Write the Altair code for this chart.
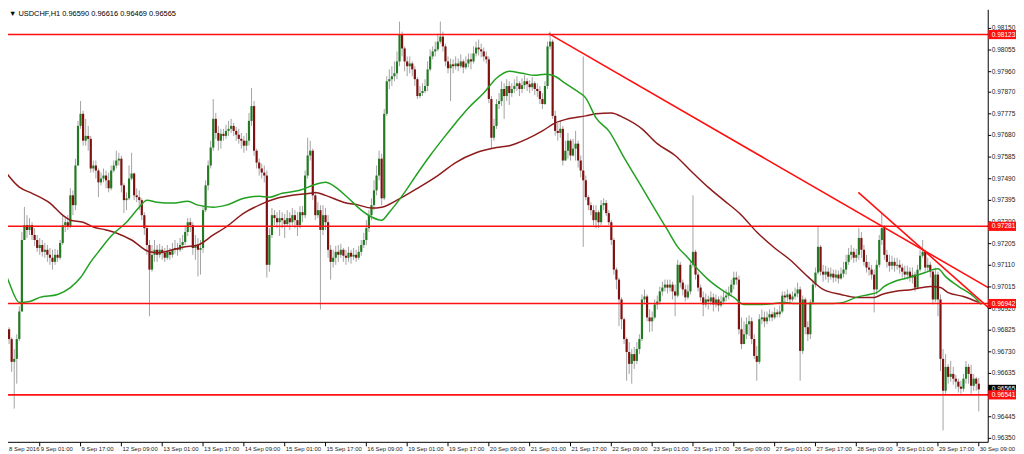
import altair as alt
import pandas as pd

# ---------------- data (prices x 1e5) ----------------
first_open = 96930
close_pts = [
96907,96881,96829,96786,96686,96699,96786,96907,97221,97286,
97265,97286,97243,97221,97186,97199,97169,97178,97156,97143,
97125,97156,97143,97208,97286,97299,97282,97417,97374,97548,
97722,97775,97657,97678,97665,97535,97548,97526,97474,97491,
97504,97483,97448,97526,97548,97570,97578,97461,97396,97404,
97491,97513,97417,97409,97396,97330,97273,97199,97091,97156,
97178,97156,97178,97165,97143,97169,97156,97178,97186,97178,
97199,97212,97256,97299,97286,97186,97199,97178,97186,97352,
97461,97548,97627,97753,97691,97657,97687,97678,97700,97709,
97722,97700,97683,97665,97657,97635,97657,97744,97809,97613,
97561,97535,97517,97504,97112,97243,97330,97317,97299,97317,
97308,97291,97317,97299,97330,97308,97286,97343,97330,97504,
97592,97613,97417,97330,97352,97265,97330,97299,97178,97125,
97143,97169,97156,97178,97152,97143,97165,97148,97156,97143,
97169,97199,97221,97273,97330,97374,97439,97504,97578,97404,
97775,97918,97927,97940,97953,98005,98123,98062,98005,97984,
97996,97970,97927,97853,97866,97875,97897,97970,98027,98049,
98058,98092,98114,98071,98005,97975,97992,97984,97996,97984,
98005,97979,97996,98014,98005,98040,98066,98058,98049,98027,
98014,97840,97670,97722,97818,97831,97884,97853,97897,97866,
97884,97897,97909,97884,97901,97918,97905,97892,97909,97884,
97875,97840,97818,97897,98071,98092,97766,97700,97691,97709,
97570,97613,97657,97592,97622,97644,97570,97526,97483,97409,
97374,97352,97308,97343,97299,97374,97383,97339,97299,97221,
97091,97047,96960,96873,96786,96729,96677,96720,96690,96742,
96786,96960,96973,96881,96864,96881,96938,96951,96995,97012,
97025,97012,97025,96995,96977,97112,97034,97004,96969,96995,
97112,97169,97069,97012,96969,96938,96960,96951,96969,96938,
96960,96934,96951,96969,96977,96990,97025,97056,97047,96829,
96764,96807,96851,96864,96786,96712,96686,96873,96881,96864,
96881,96895,96881,96903,96895,96907,96977,96969,96982,96960,
96973,96986,97004,96734,96960,96838,96807,96947,97025,97078,
97191,97082,97069,97082,97060,97073,97056,97069,97052,97073,
97091,97125,97156,97169,97143,97156,97230,97178,97125,97100,
97091,97069,97004,97112,97221,97273,97156,97125,97108,97125,
97108,97112,97100,97082,97069,97082,97056,97069,97012,97091,
97152,97169,97100,97112,97082,96960,97069,96960,96699,96559,
96664,96620,96633,96612,96599,96577,96568,96612,96664,96633,
96581,96612,96590,96565]
high_pts = [
96969,96938,96894,96838,96794,96742,96807,96930,97256,97366,
97330,97317,97299,97273,97243,97230,97221,97208,97199,97186,
97178,97182,97178,97221,97330,97322,97330,97448,97439,97578,
97744,97831,97788,97753,97722,97678,97570,97570,97535,97517,
97535,97526,97517,97548,97570,97613,97604,97591,97470,97430,
97548,97604,97517,97448,97439,97404,97343,97286,97221,97199,
97221,97199,97204,97195,97186,97199,97186,97208,97221,97208,
97230,97243,97286,97317,97317,97299,97243,97230,97221,97374,
97483,97570,97657,97840,97779,97722,97709,97709,97727,97744,
97753,97735,97718,97709,97691,97678,97691,97779,97888,97831,
97622,97578,97556,97548,97526,97273,97361,97352,97343,97352,
97343,97335,97352,97343,97361,97352,97343,97370,97370,97526,
97670,97657,97622,97430,97387,97374,97374,97361,97330,97199,
97178,97195,97199,97204,97186,97178,97191,97178,97186,97178,
97195,97221,97252,97308,97352,97404,97483,97548,97613,97600,
97796,97940,97970,97984,98005,98049,98180,98136,98071,98027,
98027,98005,97984,97936,97897,97909,97927,98005,98058,98071,
98092,98127,98180,98136,98083,98027,98018,98014,98027,98018,
98036,98014,98027,98040,98040,98071,98092,98101,98083,98066,
98049,98027,97853,97753,97840,97866,97918,97909,97927,97918,
97909,97927,97940,97918,97931,97944,97931,97922,97936,97918,
97909,97897,97866,97918,98092,98136,98101,97788,97735,97744,
97722,97657,97691,97665,97665,97700,97657,97592,98027,97504,
97417,97387,97374,97374,97352,97396,97404,97396,97352,97308,
97230,97100,97056,96969,96881,96794,96773,96742,96751,96773,
96807,96982,97004,96982,96916,96907,96960,96977,97017,97038,
97047,97047,97047,97038,97025,97134,97125,97047,97025,97025,
97134,97417,97178,97082,97025,96995,96986,96977,96995,96986,
96982,96973,96977,96995,97004,97017,97047,97082,97082,97065,
96881,96864,96881,96890,96881,96807,96755,96895,96916,96907,
96907,96916,96907,96925,96916,96934,96995,96995,97004,96990,
96995,97012,97034,97017,96977,96969,96864,96960,97047,97100,
97278,97199,97112,97108,97100,97100,97091,97091,97087,97100,
97125,97156,97186,97199,97186,97182,97273,97256,97199,97156,
97125,97112,97091,97134,97243,97339,97286,97178,97156,97152,
97143,97143,97134,97117,97108,97108,97100,97100,97082,97112,
97178,97221,97178,97143,97125,97091,97100,97082,96982,96742,
96720,96677,96690,96664,96629,96612,96603,96633,96690,96677,
96673,96633,96620,96616]
low_pts = [
96873,96864,96807,96764,96642,96481,96590,96777,96907,97221,
97230,97243,97221,97195,97169,97156,97148,97143,97125,97112,
97091,97112,97125,97134,97199,97256,97265,97273,97330,97352,
97548,97709,97635,97635,97613,97517,97517,97491,97409,97461,
97474,97448,97430,97439,97517,97535,97548,97430,97339,97352,
97396,97483,97396,97387,97352,97308,97243,97156,96886,97082,
97125,97125,97143,97134,97125,97134,97134,97143,97161,97152,
97169,97178,97199,97239,97256,97156,97134,97061,97069,97165,
97343,97439,97535,97613,97665,97613,97622,97657,97665,97678,
97691,97678,97657,97644,97622,97604,97613,97635,97722,97591,
97535,97504,97491,97474,97056,97082,97230,97286,97273,97239,
97273,97230,97282,97265,97286,97273,97239,97273,97299,97317,
97491,97570,97396,97308,97317,96916,97243,97265,97143,97047,
97100,97112,97125,97143,97125,97112,97125,97117,97134,97125,
97134,97152,97186,97199,97256,97308,97352,97417,97483,97374,
97396,97766,97884,97897,97918,97927,97984,98027,97962,97940,
97953,97940,97897,97840,97844,97853,97866,97875,97962,98014,
98027,98049,98083,98049,97984,97953,97831,97953,97970,97962,
97975,97953,97970,97979,97970,97996,98027,98031,98023,98005,
97996,97822,97622,97657,97709,97796,97809,97753,97831,97814,
97849,97866,97875,97853,97866,97884,97875,97866,97875,97857,
97849,97818,97796,97814,97884,98058,97753,97679,97657,97670,
97548,97570,97578,97570,97587,97570,97539,97496,97191,97396,
97352,97330,97286,97273,97273,97286,97352,97326,97286,97199,
97069,97004,96843,96829,96764,96603,96633,96590,96655,96677,
96720,96777,96938,96864,96816,96820,96873,96916,96938,96977,
96995,96986,96995,96960,96886,96969,97012,96977,96951,96960,
96982,97100,97047,96995,96951,96886,96925,96916,96934,96907,
96925,96907,96925,96938,96951,96960,96973,97004,97025,96807,
96742,96764,96786,96799,96764,96699,96603,96677,96851,96838,
96851,96864,96864,96873,96881,96881,96899,96938,96951,96938,
96951,96960,96969,96603,96720,96807,96777,96786,96938,97012,
97069,97065,97038,97047,97034,97047,97034,97038,97030,97047,
97056,97069,97112,97134,97121,97125,97134,97143,97108,97078,
97065,97047,96903,96982,97100,97199,97134,97100,97082,97091,
97082,97091,97073,97056,97047,97047,97038,97030,96995,97004,
97082,97143,97082,97082,97056,96938,96947,96886,96646,96385,
96546,96590,96599,96586,96568,96551,96546,96555,96590,96590,
96546,96559,96559,96469]

# moving averages (bar index, price x 1e5)
slow_idx = [0,7,12,19,24,27,32,36,41,45,51,58,62,67,72,77,83,88,95,101,
            108,114,121,123,127,134,140,145,149,155,163,171,178,186,194,199,206,212,217,222,
            229,233,239,244,251,257,264,270,277,283,290,296,303,309,316,322,329,335,342,345,
            350,357,364,368,371,377,383]
slow_pts = [97544,97453,97426,97383,97330,97308,97299,97278,97265,97252,
            97221,97169,97165,97178,97191,97199,97243,97278,97339,97374,
            97404,97417,97426,97430,97417,97387,97374,97361,97365,97396,
            97448,97504,97561,97604,97627,97635,97665,97700,97735,97753,
            97766,97775,97779,97757,97709,97644,97592,97526,97452,97396,
            97330,97256,97186,97134,97060,97004,96982,96969,96969,96982,
            96995,97004,97017,97012,96990,96973,96947]
fast_idx = [0,3,7,11,15,22,27,31,35,38,43,49,54,57,61,67,73,77,83,88,
            95,101,105,110,117,123,127,131,136,141,145,149,152,158,163,168,173,178,183,189,
            194,199,204,209,213,216,221,225,229,233,238,244,251,257,261,265,269,273,277,282,
            287,291,298,303,307,311,318,326,330,335,340,343,346,351,357,362,365,367,370,375,
            381,384]
fast_pts = [97125,97034,96947,96951,96969,96982,97012,97056,97125,97169,
            97239,97299,97365,97396,97387,97383,97391,97374,97365,97374,
            97404,97413,97409,97426,97439,97465,97474,97452,97404,97352,
            97322,97308,97343,97430,97513,97592,97665,97735,97801,97866,
            97931,97962,97953,97944,97949,97944,97909,97879,97844,97757,
            97700,97583,97452,97339,97265,97191,97143,97091,97047,97004,
            96969,96938,96938,96942,96947,96942,96942,96942,96947,96969,
            96982,96990,97017,97043,97060,97078,97091,97095,97060,97017,
            96973,96938]

levels = [0.98123, 0.97281, 0.96942, 0.96541]
trend_id = ["a", "a", "b", "b"]
trend_bar = [214.5, 386.7, 335.8, 386.7]
trend_price = [0.98127, 0.97012, 0.97430, 0.96925]

price_ticks = [0.98150, 0.98055, 0.97960, 0.97870, 0.97775, 0.97680, 0.97585, 0.97490,
               0.97395, 0.97300, 0.97205, 0.97110, 0.97015, 0.96920, 0.96825, 0.96730,
               0.96635, 0.96540, 0.96445, 0.96350]
time_labels = ["8 Sep 2016", "9 Sep 01:00", "9 Sep 17:00", "12 Sep 09:00", "13 Sep 01:00",
               "13 Sep 17:00", "14 Sep 09:00", "15 Sep 01:00", "15 Sep 17:00", "16 Sep 09:00",
               "19 Sep 01:00", "19 Sep 17:00", "20 Sep 09:00", "21 Sep 01:00", "21 Sep 17:00",
               "22 Sep 09:00", "23 Sep 01:00", "23 Sep 17:00", "26 Sep 09:00", "27 Sep 01:00",
               "27 Sep 17:00", "28 Sep 09:00", "29 Sep 01:00", "29 Sep 17:00", "30 Sep 09:00"]
time_label_bar = [2.6] + [15 + 16 * k for k in range(24)]
symbol_title = "USDCHF,H1"
last_price = 0.96565

# ---------------- build tables ----------------
opens = [first_open] + close_pts[:-1]
rows = []
for i, (o, h, l, c) in enumerate(zip(opens, high_pts, low_pts, close_pts)):
    rows.append({"bar": i, "open": o / 1e5, "close": c / 1e5,
                 "high": max(h, o, c) / 1e5, "low": min(l, o, c) / 1e5,
                 "dir": "up" if c >= o else "down"})
candles = pd.DataFrame(rows)
slow = pd.DataFrame({"bar": slow_idx, "price": [p / 1e5 for p in slow_pts]})
fast = pd.DataFrame({"bar": fast_idx, "price": [p / 1e5 for p in fast_pts]})
lev = pd.DataFrame({"price": levels, "lab": [f"{v:.5f}" for v in levels]})
trend = pd.DataFrame({"id": trend_id, "bar": trend_bar, "price": trend_price})
pt = pd.DataFrame({"price": price_ticks, "lab": [f"{v:.5f}" for v in price_ticks]})
tl = pd.DataFrame({"bar": time_label_bar, "lab": time_labels})
cur = pd.DataFrame({"price": [last_price], "lab": [f"{last_price:.5f}"]})
last = candles.iloc[-1]
title_df = pd.DataFrame({"t": [f"\u25bc {symbol_title}  {last.open:.5f} {last.high:.5f} {last.low:.5f} {last.close:.5f}"]})

W, H = 988, 436
xs = alt.Scale(domain=[2.566, 386.7], nice=False, zero=False)
ys = alt.Scale(domain=[0.963326, 0.982319], nice=False, zero=False)
FONT = "Liberation Sans"

def X(f="bar"):
    return alt.X(f + ":Q", scale=xs, axis=None)

def Y(f):
    return alt.Y(f + ":Q", scale=ys, axis=None)

wicks = alt.Chart(candles).mark_rule(color="#a3a3a3", strokeWidth=1).encode(
    x=X(), y=Y("low"), y2="high")
bodies = alt.Chart(candles).mark_rule(strokeWidth=2.2).encode(
    x=X(), y=Y("open"), y2="close",
    color=alt.Color("dir:N", scale=alt.Scale(domain=["up", "down"], range=["#237a23", "#7e1010"]), legend=None))
slow_line = alt.Chart(slow).mark_line(color="#8e1b1b", strokeWidth=1.5, interpolate="monotone").encode(x=X(), y=Y("price"))
fast_line = alt.Chart(fast).mark_line(color="#21a021", strokeWidth=1.5, interpolate="monotone").encode(x=X(), y=Y("price"))
hlines = alt.Chart(lev).mark_rule(color="#ff1010", strokeWidth=1.6).encode(y=Y("price"))
tlines = alt.Chart(trend).mark_line(color="#ff1010", strokeWidth=1.6).encode(x=X(), y=Y("price"), detail="id:N")

axis_r = alt.Chart(pd.DataFrame({"a": [0]})).mark_rule(color="black", strokeWidth=1).encode(
    x=alt.value(W), y=alt.value(0), y2=alt.value(H))
axis_b = alt.Chart(pd.DataFrame({"a": [0]})).mark_rule(color="black", strokeWidth=1).encode(
    x=alt.value(0), x2=alt.value(W), y=alt.value(H))
rticks = alt.Chart(pt).mark_rule(color="black").encode(y=Y("price"), x=alt.value(W), x2=alt.value(W + 3))
rlabels = alt.Chart(pt).mark_text(align="left", baseline="middle", font=FONT, fontSize=6.6, color="#222222").encode(
    y=Y("price"), x=alt.value(W + 3.5), text="lab:N")
bticks = alt.Chart(tl.iloc[1:]).mark_rule(color="black").encode(x=X(), y=alt.value(H), y2=alt.value(H + 4))
blabels = alt.Chart(tl).mark_text(align="left", baseline="middle", dx=1, font=FONT, fontSize=6.0, color="#222222").encode(
    x=X(), y=alt.value(H + 6.5), text="lab:N")

BOX = "M-1,-0.33L1,-0.33L1,0.33L-1,0.33Z"
cur_box = alt.Chart(cur).mark_point(shape=BOX, filled=True, size=784, opacity=1, strokeWidth=0, color="black").encode(
    y=Y("price"), x=alt.value(W + 14))
cur_txt = alt.Chart(cur).mark_text(align="left", baseline="middle", font=FONT, fontSize=6.6, color="white").encode(
    y=Y("price"), x=alt.value(W + 3.5), text="lab:N")
lev_box = alt.Chart(lev).mark_point(shape=BOX, filled=True, size=784, opacity=1, strokeWidth=0, color="#ff1010").encode(
    y=Y("price"), x=alt.value(W + 14))
lev_txt = alt.Chart(lev).mark_text(align="left", baseline="middle", font=FONT, fontSize=6.6, color="white").encode(
    y=Y("price"), x=alt.value(W + 3.5), text="lab:N")
title = alt.Chart(title_df).mark_text(align="left", baseline="top", font=FONT, fontSize=7.5, color="black").encode(
    x=alt.value(1), y=alt.value(0), text="t:N")

chart = alt.layer(
    wicks, bodies, slow_line, fast_line, hlines, tlines,
    axis_r, axis_b, rticks, rlabels, bticks, blabels,
    cur_box, cur_txt, lev_box, lev_txt, title
).properties(
    width=W, height=H,
    autosize=alt.AutoSizeParams(type="none"),
    padding={"left": 0, "top": 0, "right": 28, "bottom": 10},
    background="white",
).configure_view(stroke=None)

chart.save("out.html", embed_options={"renderer": "svg", "actions": False})
